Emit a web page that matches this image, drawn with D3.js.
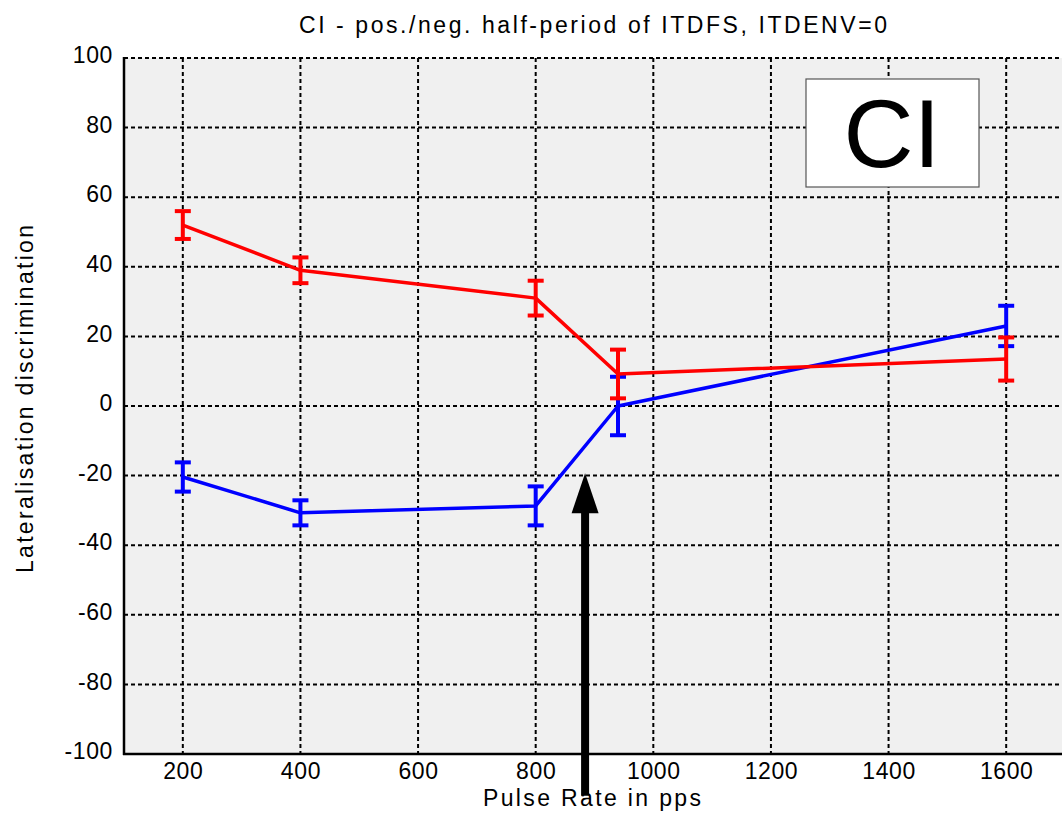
<!DOCTYPE html>
<html><head><meta charset="utf-8">
<script src="https://cdn.jsdelivr.net/npm/d3@7"></script>
<style>
body{margin:0;background:#fff;}
svg{display:block;font-family:"Liberation Sans",Arial,sans-serif;}
</style></head>
<body>
<svg id="c" width="1062" height="820"></svg>
<script>
const rates = [200, 400, 800, 940, 1600];
const redMean = [52, 39, 31, 9.2, 13.5];
const redErr = [4, 3.7, 5, 7, 6.2];
const blueMean = [-20.4, -30.7, -28.7, 0, 23];
const blueErr = [4.2, 3.6, 5.6, 8.4, 5.8];
const xTicks = [200, 400, 600, 800, 1000, 1200, 1400, 1600];
const yTicks = [-100, -80, -60, -40, -20, 0, 20, 40, 60, 80, 100];
const arrowRate = 884, arrowTip = -19.3, arrowBase = -112;

const svg = d3.select("#c");
const L = 124, T = 58, B = 754, R = 1065;
const x = d3.scaleLinear().domain([100, 1700]).range([L, R]);
const y = d3.scaleLinear().domain([-100, 100]).range([B, T]);

svg.append("rect").attr("x", L).attr("y", T).attr("width", R - L).attr("height", B - T).attr("fill", "#f0f0f0");

// grid
const g = svg.append("g");
g.selectAll(".gx").data(xTicks).enter().append("line")
  .attr("x1", d => x(d)).attr("x2", d => x(d)).attr("y1", T).attr("y2", B)
  .attr("stroke", "#000").attr("stroke-width", 2).attr("stroke-dasharray", "4,3");
g.selectAll(".gy").data(yTicks).enter().append("line")
  .attr("x1", L).attr("x2", R).attr("y1", d => y(d)).attr("y2", d => y(d))
  .attr("stroke", "#000").attr("stroke-width", 2).attr("stroke-dasharray", "4,3");

// axes
const fmt = d => String(d);
const ax = svg.append("g").attr("transform", `translate(0,${B})`)
  .call(d3.axisBottom(x).tickValues(xTicks).tickSize(0).tickPadding(9).tickFormat(fmt));
const ay = svg.append("g").attr("transform", `translate(${L},0)`)
  .call(d3.axisLeft(y).tickValues(yTicks).tickSize(0).tickPadding(11).tickFormat(fmt));
[ax, ay].forEach(a => {
  a.select(".domain").remove();
  a.selectAll("text").attr("font-size", 23).attr("fill", "#000").attr("letter-spacing", 0.6)
    .attr("font-family", "Liberation Sans, Arial, sans-serif");
});
ay.selectAll("text").attr("dy", "0.2em");
svg.append("line").attr("x1", L).attr("x2", L).attr("y1", T - 1).attr("y2", B + 1).attr("stroke", "#000").attr("stroke-width", 2.5);
svg.append("line").attr("x1", L - 1).attr("x2", R).attr("y1", B).attr("y2", B).attr("stroke", "#000").attr("stroke-width", 2.5);

// series
function drawSeries(means, errs, color) {
  const pts = rates.map((r, i) => ({r, m: means[i], e: errs[i]}));
  const gs = svg.append("g");
  pts.forEach(p => {
    gs.append("line").attr("x1", x(p.r)).attr("x2", x(p.r)).attr("y1", y(p.m + p.e)).attr("y2", y(p.m - p.e))
      .attr("stroke", color).attr("stroke-width", 4);
    [p.m + p.e, p.m - p.e].forEach(v => {
      gs.append("line").attr("x1", x(p.r) - 8).attr("x2", x(p.r) + 8).attr("y1", y(v)).attr("y2", y(v))
        .attr("stroke", color).attr("stroke-width", 4);
    });
  });
  gs.append("path").datum(pts)
    .attr("d", d3.line().x(d => x(d.r)).y(d => y(d.m)))
    .attr("fill", "none").attr("stroke", color).attr("stroke-width", 3.5).attr("stroke-linejoin", "round");
}
drawSeries(blueMean, blueErr, "#0000ff");
drawSeries(redMean, redErr, "#ff0000");

// arrow
const ax0 = x(arrowRate), tipY = y(arrowTip);
svg.append("line").attr("x1", ax0).attr("x2", ax0).attr("y1", tipY + 30).attr("y2", y(arrowBase))
  .attr("stroke", "#000").attr("stroke-width", 8);
svg.append("path").attr("d", `M${ax0},${tipY} L${ax0 - 13.5},${tipY + 40} L${ax0 + 13.5},${tipY + 40} Z`).attr("fill", "#000");

// legend box
svg.append("rect").attr("x", 806).attr("y", 79).attr("width", 173).attr("height", 108)
  .attr("fill", "#fff").attr("stroke", "#555").attr("stroke-width", 1.2);
svg.append("text").attr("x", 892).attr("y", 167).attr("text-anchor", "middle")
  .attr("font-size", 97).attr("fill", "#000").text("CI");

// titles
svg.append("text").attr("x", 593).attr("y", 33).attr("text-anchor", "middle").attr("font-size", 23)
  .attr("textLength", 588).attr("lengthAdjust", "spacing").text("CI - pos./neg. half-period of ITDFS, ITDENV=0");
svg.append("text").attr("x", 592).attr("y", 806).attr("text-anchor", "middle").attr("font-size", 23)
  .attr("textLength", 218).attr("lengthAdjust", "spacing").text("Pulse Rate in pps");
svg.append("text").attr("transform", "translate(33,399) rotate(-90)").attr("text-anchor", "middle").attr("font-size", 23)
  .attr("textLength", 348).attr("lengthAdjust", "spacing").text("Lateralisation discrimination");
</script>
</body></html>
